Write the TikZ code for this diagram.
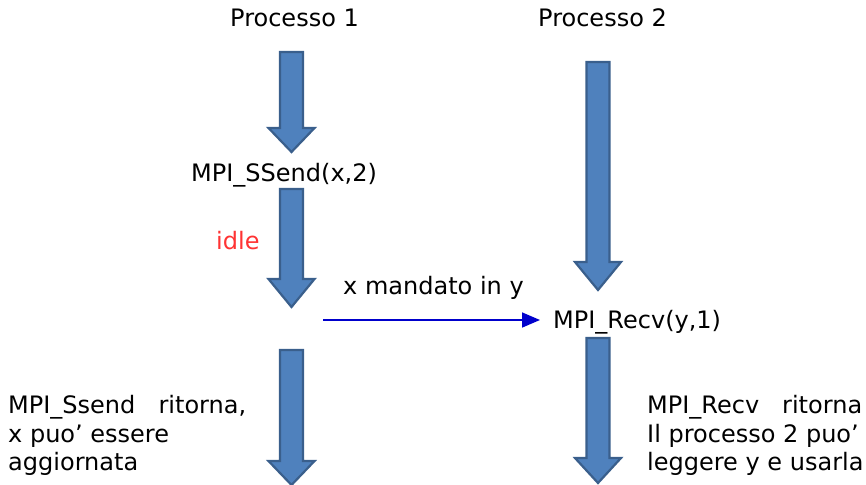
\documentclass[tikz,border=0pt]{standalone}
\usepackage{fontspec}
\setmainfont{DejaVu Sans}
\usetikzlibrary{arrows.meta}
\definecolor{arrfill}{HTML}{4F81BD}
\definecolor{arrline}{HTML}{3A5F8C}
\definecolor{idlered}{HTML}{FF3333}
\definecolor{msgblue}{HTML}{0000CC}
\newcommand\fatdownarrow[4]{% x, ytop, yhead, ytip
  \filldraw[bigarrow] (#1-11.5,#2) -- (#1+11.5,#2) -- (#1+11.5,#3) -- (#1+23,#3)
    -- (#1,#4) -- (#1-23,#3) -- (#1-11.5,#3) -- cycle;}
\begin{document}
\begin{tikzpicture}[x=1pt,y=-1pt,
  bigarrow/.style={fill=arrfill,draw=arrline,line width=2.2pt,line join=miter},
  lbl/.style={anchor=base west,inner sep=0pt,font=\fontsize{24}{29}\selectfont},
  msg/.style={draw=msgblue,line width=1.6pt,-{Triangle[length=18pt,width=15pt]}}]
\useasboundingbox (0,0) rectangle (866,484);
% process 1 arrows
\fatdownarrow{291.5}{52}{128}{152}
\fatdownarrow{291.5}{189}{279}{307}
\fatdownarrow{291.5}{350}{461}{485}
% process 2 arrows
\fatdownarrow{598}{62}{262}{290}
\fatdownarrow{598}{338}{458}{483}
% labels
\node[lbl] (p1) at (230,27) {Processo 1};
\node[lbl] (p2) at (538,27) {Processo 2};
\node[lbl] (ssend) at (191,181) {MPI\_SSend(x,2)};
\node[lbl,text=idlered] (idle) at (216,249) {idle};
\node[lbl] (mand) at (343,294) {x mandato in y};
\node[lbl] (recv) at (553,328) {MPI\_Recv(y,1)};
\coordinate (src) at (323,320);
\draw[msg,shorten >=13pt] (src) -- (recv.west |- src);
\node[lbl] (lefttxt) at (8,413) {\makebox[238pt][l]{MPI\_Ssend\hfill ritorna,}};
\node[lbl] (left2) at (8,442) {x puo’ essere};
\node[lbl] (left3) at (8,470) {aggiornata};
\node[lbl] (righttxt) at (647,413) {\makebox[215pt][l]{MPI\_Recv\hfill ritorna}};
\node[lbl] (right2) at (647,442) {Il processo 2 puo’};
\node[lbl] (right3) at (647,470) {leggere y e usarla};
\end{tikzpicture}
\end{document}
